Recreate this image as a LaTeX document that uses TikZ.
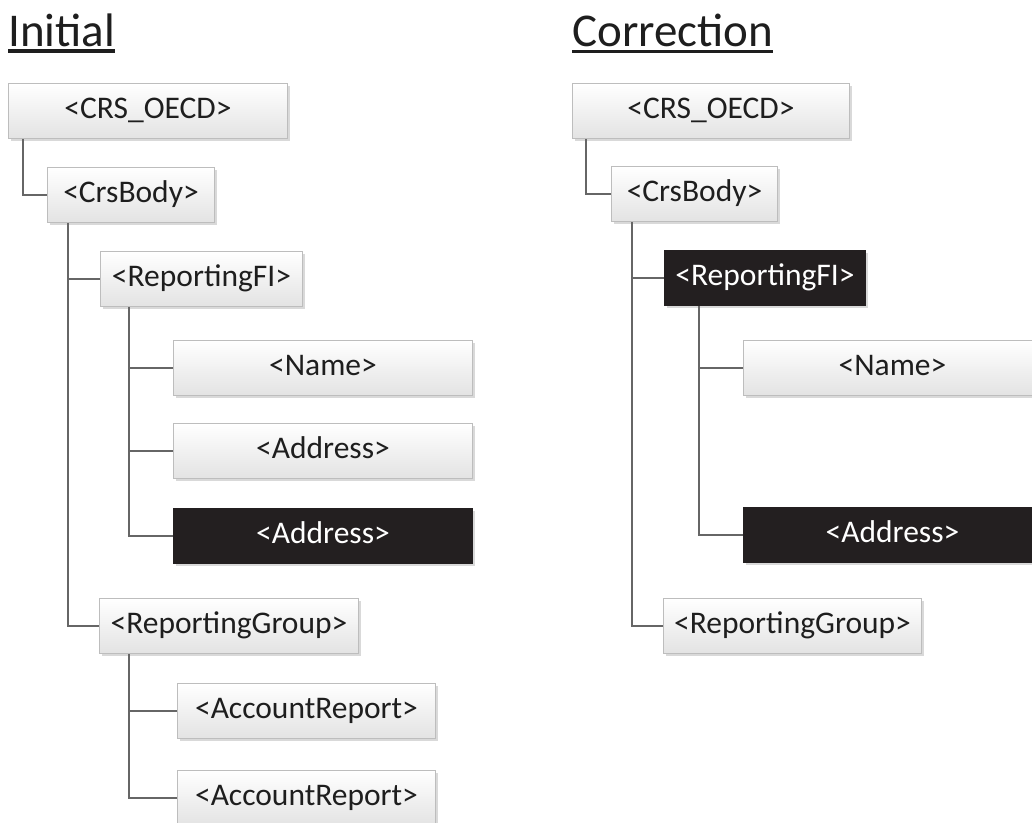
\documentclass[tikz,border=0pt]{standalone}
\usepackage{fontspec}
\setmainfont{Carlito}
\usetikzlibrary{calc,shadows}
\definecolor{linec}{HTML}{666666}
\definecolor{boxborder}{HTML}{BDBDBD}
\definecolor{darkfill}{HTML}{231F20}
\definecolor{txt}{HTML}{1E1E1E}
\tikzset{
  tagbase/.style={draw=boxborder, line width=1pt, text=txt,
    font=\fontsize{31.5}{36}\selectfont, inner sep=0pt, anchor=north west,
    text height=20pt, text depth=5pt, minimum height=55pt,
    drop shadow={shadow xshift=2pt, shadow yshift=-2pt, fill=black!15, opacity=1}},
  tag/.style={tagbase, top color=white, bottom color=black!11},
  tagdark/.style={tagbase, fill=darkfill, draw=darkfill, text=white},
  conn/.style={draw=linec, line width=2.3pt},
  titletext/.style={font=\fontsize{47}{56}\selectfont, text=txt, inner sep=0pt, anchor=base west},
  uline/.style={draw=txt, line width=3.5pt},
}
\begin{document}
\begin{tikzpicture}[x=1pt,y=-1pt]
\useasboundingbox (0,0) rectangle (1032,822);
\fill[white] (0,0) rectangle (1032,822);

% titles
\node[titletext] (t1) at (8,46.5) {Initial};
\draw[uline] ($(t1.base west)+(0,4.5)$) -- ($(t1.base east)+(0,4.5)$);
\node[titletext] (t2) at (572,46.5) {Correction};
\draw[uline] ($(t2.base west)+(0,5)$) -- ($(t2.base east)+(0,5)$);

% left tree
\node[tag, minimum width=279pt] (crs1) at (8,83) {<CRS\_OECD>};
\node[tag, minimum width=167pt] (body1) at (47,167) {<CrsBody>};
\node[tag, minimum width=202pt] (rfi1) at (100,251) {<ReportingFI>};
\node[tag, minimum width=299pt] (name1) at (173,340) {<Name>};
\node[tag, minimum width=299pt] (addr1) at (173,423) {<Address>};
\node[tagdark, minimum width=299pt] (addr1b) at (173,508) {<Address>};
\node[tag, minimum width=259pt] (rg1) at (99,598) {<ReportingGroup>};
\node[tag, minimum width=258pt] (ar1) at (177,683) {<AccountReport>};
\node[tag, minimum width=258pt] (ar2) at (177,770) {<AccountReport>};

\draw[conn] ($(crs1.south west)+(15,0)$) |- (body1.west);
\draw[conn] ($(body1.south west)+(21,0)$) |- (rfi1.west);
\draw[conn] ($(body1.south west)+(21,0)$) |- (rg1.west);
\draw[conn] ($(rfi1.south west)+(29,0)$) |- (name1.west);
\draw[conn] ($(rfi1.south west)+(29,0)$) |- (addr1.west);
\draw[conn] ($(rfi1.south west)+(29,0)$) |- (addr1b.west);
\draw[conn] ($(rg1.south west)+(30,0)$) |- (ar1.west);
\draw[conn] ($(rg1.south west)+(30,0)$) |- (ar2.west);

% right tree
\node[tag, minimum width=277pt] (crs2) at (572,83) {<CRS\_OECD>};
\node[tag, minimum width=166pt] (body2) at (611,166) {<CrsBody>};
\node[tagdark, minimum width=201pt] (rfi2) at (664,250) {<ReportingFI>};
\node[tag, minimum width=298pt] (name2) at (743,340) {<Name>};
\node[tagdark, minimum width=298pt] (addr2b) at (743,507) {<Address>};
\node[tag, minimum width=258pt] (rg2) at (663,598) {<ReportingGroup>};

\draw[conn] ($(crs2.south west)+(14,0)$) |- (body2.west);
\draw[conn] ($(body2.south west)+(21,0)$) |- (rfi2.west);
\draw[conn] ($(body2.south west)+(21,0)$) |- (rg2.west);
\draw[conn] ($(rfi2.south west)+(35,0)$) |- (name2.west);
\draw[conn] ($(rfi2.south west)+(35,0)$) |- (addr2b.west);
\end{tikzpicture}
\end{document}
